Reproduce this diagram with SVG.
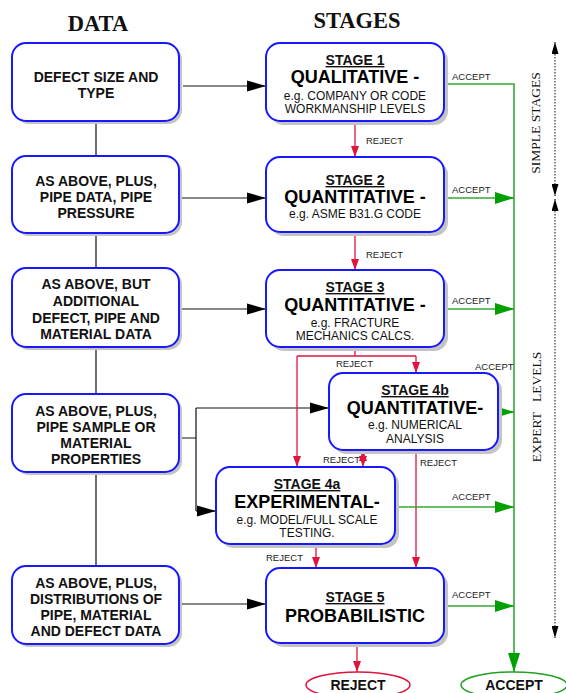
<svg xmlns="http://www.w3.org/2000/svg" width="566" height="693" viewBox="0 0 566 693">
<defs>
<style>
.box{fill:#fff;stroke:#1818ff;stroke-width:2}
.sh{fill:#c4c4c4}
.dt{font-family:"Liberation Sans",Arial,sans-serif;font-weight:bold;font-size:14px;text-anchor:middle;fill:#111}
.st{font-family:"Liberation Sans",Arial,sans-serif;font-weight:bold;font-size:14px;text-anchor:middle;text-decoration:underline;fill:#111}
.big{font-family:"Liberation Sans",Arial,sans-serif;font-weight:bold;font-size:18px;text-anchor:middle;fill:#000}
.eg{font-family:"Liberation Sans",Arial,sans-serif;font-size:12px;text-anchor:middle;fill:#111}
.lb{font-family:"Liberation Sans",Arial,sans-serif;font-size:9.5px;fill:#222}
.hd{font-family:"Liberation Serif","Times New Roman",serif;font-weight:bold;font-size:22.5px;text-anchor:middle;fill:#111}
.side{font-family:"Liberation Serif","Times New Roman",serif;font-size:13.5px;text-anchor:middle;fill:#111}
.blk{fill:none;stroke:#111;stroke-width:1.2}
.red{fill:none;stroke:#e0143c;stroke-width:1.3}
.grn{fill:none;stroke:#33aa33;stroke-width:1.6}
.dot{fill:none;stroke:#111;stroke-width:1;stroke-dasharray:1.5 1.5}
</style>
<marker id="ab" markerUnits="userSpaceOnUse" markerWidth="20" markerHeight="12" refX="19" refY="6" orient="auto"><path d="M0,0.5 L19,6 L0,11.5 z" fill="#000"/></marker>
<marker id="ag" markerUnits="userSpaceOnUse" markerWidth="20" markerHeight="13" refX="19" refY="6.5" orient="auto"><path d="M0,0.5 L19,6.5 L0,12.5 z" fill="#00a000"/></marker>
<marker id="ar" markerUnits="userSpaceOnUse" markerWidth="12" markerHeight="9" refX="11" refY="4.5" orient="auto-start-reverse"><path d="M0,0.5 L11,4.5 L0,8.5 z" fill="#e0143c"/></marker>
<marker id="ad" markerUnits="userSpaceOnUse" markerWidth="13" markerHeight="7" refX="12" refY="3.5" orient="auto-start-reverse"><path d="M0,0 L12,3.5 L0,7 z" fill="#000"/></marker>
</defs>
<rect width="566" height="693" fill="#fff"/>

<text class="hd" x="98" y="31">DATA</text>
<text class="hd" x="357" y="28">STAGES</text>

<g id="connectors">
<!-- data vertical links -->
<path class="blk" d="M96,121 V156 M96,233 V268 M96,347 V394 M96,472 V566"/>
<!-- data to stages -->
<path class="blk" d="M183,86 H266" marker-end="url(#ab)"/>
<path class="blk" d="M179,198 H266" marker-end="url(#ab)"/>
<path class="blk" d="M179,309 H266" marker-end="url(#ab)"/>
<path class="blk" d="M179,438 H196 M196,408 V511"/>
<path class="blk" d="M196,408 H329" marker-end="url(#ab)"/>
<path class="blk" d="M196,511 H216" marker-end="url(#ab)"/>
<path class="blk" d="M179,604 H266" marker-end="url(#ab)"/>
<!-- reject -->
<path class="red" d="M355,121 V157" marker-end="url(#ar)"/>
<path class="red" d="M355,232 V270" marker-end="url(#ar)"/>
<path class="red" d="M355,347 V356 M297,356 H416"/>
<path class="red" d="M416,356 V373" marker-end="url(#ar)"/>
<path class="red" d="M297,356 V467" marker-end="url(#ar)"/>
<path class="red" d="M363,450 V467" marker-start="url(#ar)" marker-end="url(#ar)"/>
<path class="red" d="M416,450 V568" marker-end="url(#ar)"/>
<path class="red" d="M316,544 V568" marker-end="url(#ar)"/>
<path class="red" d="M357,643 V672" marker-end="url(#ar)"/>
<!-- accept -->
<path class="grn" d="M444,84 H514 V672" marker-end="url(#ag)"/>
<path class="grn" d="M444,198 H514" marker-end="url(#ag)"/>
<path class="grn" d="M444,309 H514" marker-end="url(#ag)"/>
<path class="grn" d="M498,412 H514" marker-end="url(#ag)"/>
<path class="grn" d="M395,507 H514" marker-end="url(#ag)"/>
<path class="grn" d="M444,606 H514" marker-end="url(#ag)"/>
<!-- side dotted arrows -->
<path class="dot" d="M555,42 V196" marker-start="url(#ad)" marker-end="url(#ad)"/>
<path class="dot" d="M555,199 V638" marker-start="url(#ad)" marker-end="url(#ad)"/>
<!-- labels -->
<text class="lb" x="366" y="144">REJECT</text>
<text class="lb" x="366" y="258">REJECT</text>
<text class="lb" x="336" y="367">REJECT</text>
<text class="lb" x="323" y="463">REJECT</text>
<text class="lb" x="420" y="466">REJECT</text>
<text class="lb" x="266" y="561">REJECT</text>
<text class="lb" x="452" y="80">ACCEPT</text>
<text class="lb" x="452" y="193">ACCEPT</text>
<text class="lb" x="452" y="304">ACCEPT</text>
<text class="lb" x="475" y="370">ACCEPT</text>
<text class="lb" x="452" y="500">ACCEPT</text>
<text class="lb" x="452" y="598">ACCEPT</text>
</g>

<text class="side" transform="translate(540,123) rotate(-90)">SIMPLE STAGES</text>
<text class="side" transform="translate(541,407) rotate(-90)" xml:space="preserve">EXPERT   LEVELS</text>

<g id="data1"><rect class="sh" x="15" y="46" width="167" height="78" rx="14"/><rect class="box" x="12" y="43" width="167" height="78" rx="14"/>
<text class="dt" x="96" y="82">DEFECT SIZE AND</text><text class="dt" x="96" y="98">TYPE</text></g>
<g id="data2"><rect class="sh" x="15" y="159" width="167" height="77" rx="14"/><rect class="box" x="12" y="156" width="167" height="77" rx="14"/>
<text class="dt" x="96" y="186">AS ABOVE, PLUS,</text><text class="dt" x="96" y="202">PIPE DATA, PIPE</text><text class="dt" x="96" y="218">PRESSURE</text></g>
<g id="data3"><rect class="sh" x="15" y="271" width="167" height="79" rx="14"/><rect class="box" x="12" y="268" width="167" height="79" rx="14"/>
<text class="dt" x="96" y="289">AS ABOVE, BUT</text><text class="dt" x="96" y="306">ADDITIONAL</text><text class="dt" x="96" y="323">DEFECT, PIPE AND</text><text class="dt" x="96" y="339">MATERIAL DATA</text></g>
<g id="data4"><rect class="sh" x="15" y="397" width="167" height="78" rx="14"/><rect class="box" x="12" y="394" width="167" height="78" rx="14"/>
<text class="dt" x="96" y="416">AS ABOVE, PLUS,</text><text class="dt" x="96" y="432">PIPE SAMPLE OR</text><text class="dt" x="96" y="448">MATERIAL</text><text class="dt" x="96" y="464">PROPERTIES</text></g>
<g id="data5"><rect class="sh" x="15" y="569" width="167" height="78" rx="14"/><rect class="box" x="12" y="566" width="167" height="78" rx="14"/>
<text class="dt" x="96" y="588">AS ABOVE, PLUS,</text><text class="dt" x="96" y="604">DISTRIBUTIONS OF</text><text class="dt" x="96" y="620">PIPE, MATERIAL</text><text class="dt" x="96" y="636">AND DEFECT DATA</text></g>

<g id="stage1"><rect class="sh" x="270" y="47" width="178" height="78" rx="14"/><rect class="box" x="266" y="43" width="178" height="78" rx="14"/>
<text class="st" x="355" y="65">STAGE 1</text><text class="big" x="355" y="83">QUALITATIVE -</text><text class="eg" x="355" y="100">e.g. COMPANY OR CODE</text><text class="eg" x="355" y="113">WORKMANSHIP LEVELS</text></g>
<g id="stage2"><rect class="sh" x="270" y="161" width="178" height="75" rx="14"/><rect class="box" x="266" y="157" width="178" height="75" rx="14"/>
<text class="st" x="355" y="185">STAGE 2</text><text class="big" x="355" y="203">QUANTITATIVE -</text><text class="eg" x="355" y="218">e.g. ASME B31.G CODE</text></g>
<g id="stage3"><rect class="sh" x="270" y="274" width="178" height="77" rx="14"/><rect class="box" x="266" y="270" width="178" height="77" rx="14"/>
<text class="st" x="355" y="292">STAGE 3</text><text class="big" x="355" y="311">QUANTITATIVE -</text><text class="eg" x="355" y="327">e.g. FRACTURE</text><text class="eg" x="355" y="340">MECHANICS CALCS.</text></g>
<g id="stage4b"><rect class="sh" x="333" y="377" width="169" height="77" rx="14"/><rect class="box" x="329" y="373" width="169" height="77" rx="14"/>
<text class="st" x="415" y="395">STAGE 4b</text><text class="big" x="415" y="414">QUANTITATIVE-</text><text class="eg" x="415" y="429">e.g. NUMERICAL</text><text class="eg" x="415" y="443">ANALYSIS</text></g>
<g id="stage4a"><rect class="sh" x="220" y="471" width="179" height="77" rx="14"/><rect class="box" x="216" y="467" width="179" height="77" rx="14"/>
<text class="st" x="307" y="489">STAGE 4a</text><text class="big" x="307" y="508">EXPERIMENTAL-</text><text class="eg" x="307" y="524">e.g. MODEL/FULL SCALE</text><text class="eg" x="307" y="537">TESTING.</text></g>
<g id="stage5"><rect class="sh" x="270" y="572" width="178" height="75" rx="14"/><rect class="box" x="266" y="568" width="178" height="75" rx="14"/>
<text class="st" x="355" y="602">STAGE 5</text><text class="big" x="355" y="622">PROBABILISTIC</text></g>

<g id="reject"><ellipse cx="358" cy="685" rx="52" ry="13" fill="#fff" stroke="#e0143c" stroke-width="1.5"/>
<text class="dt" x="358" y="690">REJECT</text></g>
<g id="accept"><ellipse cx="514" cy="685" rx="53" ry="13" fill="#fff" stroke="#22a022" stroke-width="1.5"/>
<text class="dt" x="514" y="690">ACCEPT</text></g>
</svg>
